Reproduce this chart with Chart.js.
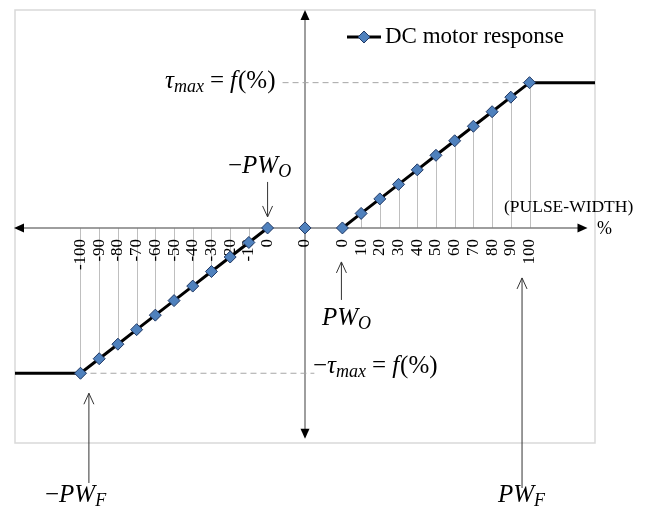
<!DOCTYPE html>
<html>
<head>
<meta charset="utf-8">
<script src="https://cdn.jsdelivr.net/npm/chart.js@4.4.1/dist/chart.umd.min.js"></script>
<style>
  html, body { margin: 0; padding: 0; background: #fff; }
  #wrap { width: 646px; height: 521px; }
</style>
</head>
<body>
<div id="wrap"><canvas id="motorChart"></canvas></div>
<script>
// tick labels along the horizontal axis, one per slot (blank slots are gaps)
const tickLabels = ['-100', '-90', '-80', '-70', '-60', '-50', '-40', '-30', '-20', '-10', '0',
  '', '0', '', '0', '10', '20', '30', '40', '50', '60', '70', '80', '90', '100'];

// negative branch (slots 0..10) and positive branch (slots 14..24)
const negSlots = [0, 1, 2, 3, 4, 5, 6, 7, 8, 9, 10];
const negTorque = [-100, -90, -80, -70, -60, -50, -40, -30, -20, -10, 0];
const posSlots = [14, 15, 16, 17, 18, 19, 20, 21, 22, 23, 24];
const posTorque = [0, 10, 20, 30, 40, 50, 60, 70, 80, 90, 100];
const centerSlot = 12;
const centerTorque = 0;

// saturation: flat part runs to the frame edges
const leftEdge = -3.5;
const rightEdge = 27.5;
const tauMax = 100;

const lineData = [
  { x: leftEdge, y: negTorque[0] },
  ...negSlots.map((x, i) => ({ x: x, y: negTorque[i] })),
  { x: 11, y: null },
  { x: centerSlot, y: centerTorque },
  { x: 13, y: null },
  ...posSlots.map((x, i) => ({ x: x, y: posTorque[i] })),
  { x: rightEdge, y: posTorque[posTorque.length - 1] }
];

const serif = '"Liberation Serif", "Times New Roman", serif';

// draws a little formula made of parts {t, it, sub}
function drawMath(ctx, parts, x, y, size) {
  let cx = x;
  parts.forEach((p) => {
    const fs = p.sub ? size * 0.72 : size;
    ctx.font = (p.it ? 'italic ' : '') + fs + 'px ' + serif;
    ctx.fillText(p.t, cx, p.sub ? y + size * 0.24 : y);
    cx += ctx.measureText(p.t).width + (p.gap || 0);
  });
}

function openArrow(ctx, x, tipY, tailY) {
  const dir = tailY > tipY ? 1 : -1;
  ctx.beginPath();
  ctx.moveTo(x, tailY);
  ctx.lineTo(x, tipY);
  ctx.moveTo(x - 5, tipY + dir * 11);
  ctx.lineTo(x, tipY);
  ctx.lineTo(x + 5, tipY + dir * 11);
  ctx.stroke();
}

function solidHead(ctx, x, y, dx, dy) {
  // tip at x,y pointing along dx,dy
  const px = -dy, py = dx;
  ctx.beginPath();
  ctx.moveTo(x, y);
  ctx.lineTo(x - dx * 10 + px * 4.5, y - dy * 10 + py * 4.5);
  ctx.lineTo(x - dx * 10 - px * 4.5, y - dy * 10 - py * 4.5);
  ctx.closePath();
  ctx.fill();
}

const decor = {
  id: 'decor',
  // drawn before the scales so the tick labels sit on top of the drop lines
  beforeDraw(chart) {
    const { ctx, chartArea: a, scales: { x, y } } = chart;
    const fl = x.getPixelForValue(leftEdge);
    const fr = x.getPixelForValue(rightEdge);
    const y0 = y.getPixelForValue(0);
    ctx.save();
    // frame
    ctx.strokeStyle = '#d9d9d9';
    ctx.lineWidth = 1.5;
    ctx.strokeRect(fl, a.top, fr - fl, a.bottom - a.top);

    // drop lines from the axis to each point
    ctx.strokeStyle = '#bfbfbf';
    ctx.lineWidth = 1;
    ctx.beginPath();
    negSlots.forEach((s, i) => {
      const px = Math.round(x.getPixelForValue(s)) + 0.5;
      ctx.moveTo(px, y0);
      ctx.lineTo(px, y.getPixelForValue(negTorque[i]));
    });
    posSlots.forEach((s, i) => {
      const px = Math.round(x.getPixelForValue(s)) + 0.5;
      ctx.moveTo(px, y0);
      ctx.lineTo(px, y.getPixelForValue(posTorque[i]));
    });
    ctx.stroke();

    // axes
    const xc = x.getPixelForValue(centerSlot);
    const xRightTip = x.getPixelForValue(27.1);
    const yBottomTip = y.getPixelForValue(-145);
    ctx.strokeStyle = '#7f7f7f';
    ctx.lineWidth = 1.5;
    ctx.beginPath();
    ctx.moveTo(fl + 6, y0);
    ctx.lineTo(xRightTip - 6, y0);
    ctx.moveTo(xc, a.top + 6);
    ctx.lineTo(xc, yBottomTip - 6);
    ctx.stroke();
    ctx.fillStyle = '#000';
    solidHead(ctx, fl - 1, y0, -1, 0);
    solidHead(ctx, xRightTip, y0, 1, 0);
    solidHead(ctx, xc, a.top, 0, -1);
    solidHead(ctx, xc, yBottomTip, 0, 1);
    ctx.restore();
  },
  afterDraw(chart) {
    const { ctx, scales: { x, y } } = chart;
    const y0 = y.getPixelForValue(0);
    const yTop = y.getPixelForValue(tauMax);
    const yBot = y.getPixelForValue(-tauMax);
    ctx.save();
    ctx.fillStyle = '#000';
    ctx.textBaseline = 'middle';

    // legend
    const ly = 37;
    ctx.strokeStyle = '#000';
    ctx.lineWidth = 3;
    ctx.beginPath();
    ctx.moveTo(347, ly);
    ctx.lineTo(381, ly);
    ctx.stroke();
    ctx.fillStyle = '#4f81bd';
    ctx.strokeStyle = '#203864';
    ctx.lineWidth = 1;
    ctx.beginPath();
    ctx.moveTo(364, ly - 6);
    ctx.lineTo(370, ly);
    ctx.lineTo(364, ly + 6);
    ctx.lineTo(358, ly);
    ctx.closePath();
    ctx.fill();
    ctx.stroke();
    ctx.fillStyle = '#000';
    ctx.font = '23px ' + serif;
    ctx.fillText('DC motor response', 385, ly);

    // axis captions
    ctx.font = '17.5px ' + serif;
    ctx.fillText('(PULSE-WIDTH)', 504, y0 - 21);
    ctx.font = '18px ' + serif;
    ctx.fillText('%', 597, y0 + 1);

    // formulas
    const fs = 25;
    drawMath(ctx, [{ t: 'τ', it: true }, { t: 'max', it: true, sub: true, gap: 6 },
      { t: '=', gap: 6 }, { t: 'f', it: true, gap: 1 }, { t: '(%)' }], 165, yTop - 1, fs);
    drawMath(ctx, [{ t: '−' }, { t: 'τ', it: true }, { t: 'max', it: true, sub: true, gap: 6 },
      { t: '=', gap: 6 }, { t: 'f', it: true, gap: 1 }, { t: '(%)' }], 313, yBot - 7, fs);
    drawMath(ctx, [{ t: '−' }, { t: 'PW', it: true }, { t: 'O', it: true, sub: true }], 228, y0 - 62, fs);
    drawMath(ctx, [{ t: 'PW', it: true }, { t: 'O', it: true, sub: true }], 322, y0 + 90, fs);
    drawMath(ctx, [{ t: '−' }, { t: 'PW', it: true }, { t: 'F', it: true, sub: true }], 45, 495, fs);
    drawMath(ctx, [{ t: 'PW', it: true }, { t: 'F', it: true, sub: true }], 498, 495, fs);

    // pointer arrows
    ctx.strokeStyle = '#333';
    ctx.lineWidth = 1;
    openArrow(ctx, x.getPixelForValue(10), y0 - 11, y0 - 46);
    openArrow(ctx, x.getPixelForValue(14) - 1, y0 + 34, y0 + 72);
    openArrow(ctx, x.getPixelForValue(23.6), y0 + 50, 488);
    openArrow(ctx, x.getPixelForValue(0.45), yBot + 20, 483);
    ctx.restore();
  }
};

new Chart(document.getElementById('motorChart'), {
  data: {
    datasets: [
      {
        type: 'line',
        label: 'DC motor response',
        data: lineData,
        borderColor: '#000',
        borderWidth: 3,
        pointStyle: 'rectRot',
        pointRadius: (c) => (c.raw && (c.raw.x === leftEdge || c.raw.x === rightEdge) ? 0 : 6),
        pointBackgroundColor: '#4f81bd',
        pointBorderColor: '#203864',
        pointBorderWidth: 1,
        spanGaps: false,
        order: 1
      },
      {
        type: 'line',
        label: 'tau max',
        data: [{ x: 10.8, y: tauMax }, { x: 24, y: tauMax }],
        borderColor: '#a6a6a6',
        borderWidth: 1,
        borderDash: [6, 4],
        pointRadius: 0,
        order: 2
      },
      {
        type: 'line',
        label: '-tau max',
        data: [{ x: 0, y: -tauMax }, { x: 12.5, y: -tauMax }],
        borderColor: '#a6a6a6',
        borderWidth: 1,
        borderDash: [6, 4],
        pointRadius: 0,
        order: 2
      }
    ]
  },
  options: {
    responsive: true,
    maintainAspectRatio: false,
    animation: false,
    events: [],
    layout: { padding: { left: 15, right: 51, top: 10, bottom: 78 } },
    plugins: { legend: { display: false }, tooltip: { enabled: false } },
    scales: {
      x: {
        type: 'linear',
        min: leftEdge,
        max: rightEdge,
        position: { y: 0 },
        grid: { display: false, drawTicks: false },
        border: { display: false },
        afterBuildTicks: (scale) => {
          scale.ticks = tickLabels.map((l, i) => ({ value: i }));
        },
        ticks: {
          autoSkip: false,
          minRotation: 90,
          maxRotation: 90,
          padding: 11,
          color: '#000',
          font: { family: serif, size: 17 },
          callback: (v) => tickLabels[v]
        }
      },
      y: {
        type: 'linear',
        min: -148,
        max: 150,
        display: false
      }
    }
  },
  plugins: [decor]
});
</script>
</body>
</html>
